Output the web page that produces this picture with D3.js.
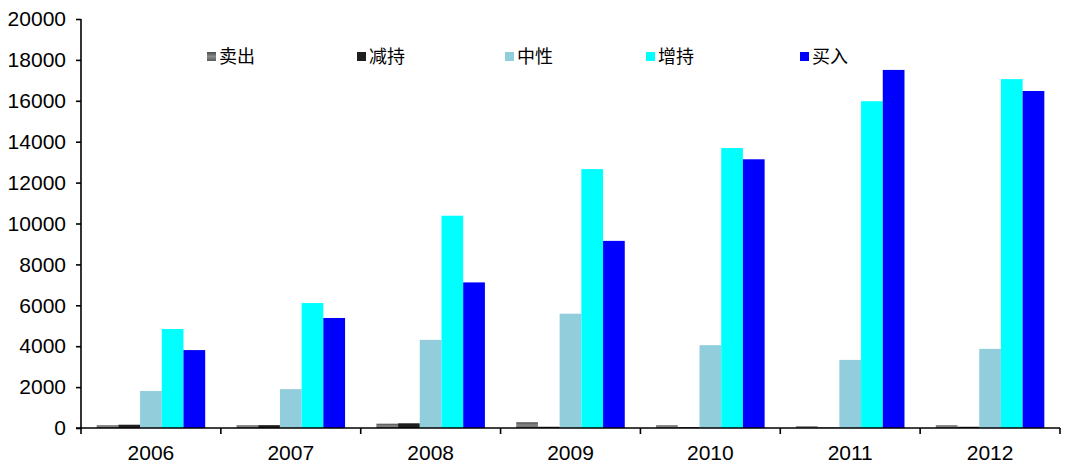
<!DOCTYPE html>
<html><head><meta charset="utf-8">
<script src="https://cdn.jsdelivr.net/npm/d3@7"></script>
<style>
html,body{margin:0;padding:0;background:#fff;}
svg{display:block;}
</style></head>
<body>
<svg id="chart" width="1077" height="471"></svg>
<script>
const years = ["2006","2007","2008","2009","2010","2011","2012"];
const seriesNames = ["卖出","减持","中性","增持","买入"];
const sell    = [130, 130, 210, 280, 130, 80, 130];
const reduce  = [160, 140, 230, 60, 40, 20, 60];
const neutral = [1810, 1900, 4310, 5590, 4050, 3330, 3870];
const overweight = [4840, 6110, 10380, 12660, 13690, 15980, 17060];
const buy     = [3810, 5380, 7120, 9150, 13140, 17510, 16480];
const yTicks = [0,2000,4000,6000,8000,10000,12000,14000,16000,18000,20000];
const colors = ["url(#sellGrad)","#1f1f1f","#92cddc","#00ffff","#0000ff"];
const legendX = [207, 357, 505, 646, 800];

const seriesValues = [sell, reduce, neutral, overweight, buy];

const svg = d3.select("#chart");
const defs = svg.append("defs");
const g1 = defs.append("linearGradient").attr("id","sellGrad").attr("x1","0").attr("x2","0").attr("y1","0").attr("y2","1");
g1.append("stop").attr("offset","0%").attr("stop-color","#4a4a4a");
g1.append("stop").attr("offset","50%").attr("stop-color","#8a8a8a");
g1.append("stop").attr("offset","100%").attr("stop-color","#5a5a5a");

const mLeft = 81, mRight = 1060, mTop = 19, mBottom = 428;

const x0 = d3.scaleBand().domain(years).range([mLeft, mRight]).padding(0);
const bw = x0.bandwidth();
const inner = bw * 0.112;
const x1 = d3.scaleBand().domain(seriesNames).range([inner, bw - inner]).padding(0);
const y = d3.scaleLinear().domain([0, 20000]).range([mBottom, mTop]);

// bars
const groups = svg.append("g").selectAll("g").data(years).join("g")
  .attr("transform", d => `translate(${x0(d)},0)`);
groups.selectAll("rect").data((d, i) => seriesNames.map((s, k) => ({s, k, v: seriesValues[k][i]})))
  .join("rect")
  .attr("x", d => x1(d.s))
  .attr("width", x1.bandwidth())
  .attr("y", d => y(d.v))
  .attr("height", d => y(0) - y(d.v))
  .attr("fill", d => colors[d.k]);

// y axis
const yAxis = d3.axisLeft(y).tickValues(yTicks).tickSize(5).tickPadding(10).tickFormat(d3.format("d"));
const ya = svg.append("g").attr("transform", `translate(${mLeft},0)`).call(yAxis);
ya.select(".domain").attr("d", `M0,${mTop}V${mBottom}`);
ya.selectAll("path,line").attr("stroke","#000").attr("stroke-width",1.6);
ya.selectAll("text").attr("font-family","'Liberation Sans', Arial, sans-serif").attr("font-size","21px").attr("fill","#000");

// x axis
const xa = svg.append("g").attr("transform", `translate(0,${mBottom})`)
  .call(d3.axisBottom(x0).tickSize(0).tickPadding(17));
xa.select(".domain").attr("d", `M${mLeft - 5},0H${mRight}`).attr("stroke","#000").attr("stroke-width",1.6);
xa.selectAll("text").attr("font-family","'Liberation Sans', Arial, sans-serif").attr("font-size","21px").attr("fill","#000");
// boundary ticks
const bounds = years.map(d => x0(d)).concat([mRight]);
xa.selectAll(".bt").data(bounds).join("line").attr("class","bt")
  .attr("x1", d => d).attr("x2", d => d).attr("y1", 0).attr("y2", 6)
  .attr("stroke","#000").attr("stroke-width",1.6);

// legend
const lg = svg.append("g").selectAll("g").data(seriesNames).join("g")
  .attr("transform", (d, i) => `translate(${legendX[i]},57)`);
lg.append("rect").attr("x",0).attr("y",-5).attr("width",9).attr("height",9)
  .attr("fill", (d, i) => colors[i]);
lg.append("text").attr("x",12).attr("y",0).attr("dy","0.36em")
  .attr("font-family","'Noto Sans CJK SC', sans-serif").attr("font-size","18px").attr("fill","#000")
  .text(d => d);
</script>
</body></html>
